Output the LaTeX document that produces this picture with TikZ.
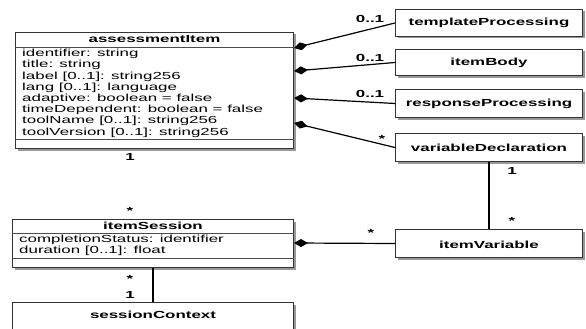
\documentclass[tikz,border=0pt]{standalone}
\usepackage{fontspec}
\setmainfont[FakeStretch=1.65]{Liberation Sans}
\usetikzlibrary{arrows.meta,shadows}

\begin{document}
\begin{tikzpicture}[x=1pt, y=-1pt,
  cls/.style={draw=black!80, line width=1pt, fill=white, anchor=north west, inner sep=0pt,
    general shadow={fill=black!40, shadow xshift=2pt, shadow yshift=-2pt}},
  rbox/.style={cls, minimum width=187pt, minimum height=28pt},
  sep/.style={draw=black!70, line width=0.8pt},
  ttl/.style={font=\fontsize{10.25}{11.2}\selectfont\bfseries, inner sep=0pt},
  attr/.style={font=\fontsize{10.25}{11.2}\selectfont, align=left, anchor=north west, inner sep=0pt},
  mult/.style={font=\fontsize{10.25}{11.2}\selectfont\bfseries, inner sep=0pt},
  comp/.style={line width=1.2pt, {Diamond[length=14pt,width=8pt]}-},
  assoc/.style={line width=1.2pt},
]
\clip (0,0) rectangle (586,329);

% assessmentItem
\node[cls, minimum width=278pt, minimum height=116pt] (ai) at (15,32) {};
\draw[sep] ([yshift=-15pt]ai.north west) -- ([yshift=-15pt]ai.north east);
\draw[sep] ([yshift=10pt]ai.south west) -- ([yshift=10pt]ai.south east);
\node[ttl] (ait) at ([yshift=-7.5pt]ai.north) {assessmentItem};
\node[attr] (aia) at ([xshift=7pt,yshift=-17pt]ai.north west) {identifier: string\\
title: string\\
label [0..1]: string256\\
lang [0..1]: language\\
adaptive: boolean = false\\
timeDependent: boolean = false\\
toolName [0..1]: string256\\
toolVersion [0..1]: string256};

% itemSession
\node[cls, minimum width=281pt, minimum height=48pt] (is) at (12,219) {};
\draw[sep] ([yshift=-14pt]is.north west) -- ([yshift=-14pt]is.north east);
\draw[sep] ([yshift=10pt]is.south west) -- ([yshift=10pt]is.south east);
\node[ttl] (ist) at ([yshift=-7pt]is.north) {itemSession};
\node[attr] (isa) at ([xshift=7pt,yshift=-16pt]is.north west) {completionStatus: identifier\\
duration [0..1]: float};

% sessionContext
\node[cls, minimum width=281pt, minimum height=45pt] (sc) at (12,302) {};
\node[ttl] (sct) at ([yshift=-13pt]sc.north) {sessionContext};

% right column
\node[rbox, minimum height=27pt] (tp) at (395,9) {};
\node[ttl] at (tp.center) {templateProcessing};
\node[rbox, minimum height=26pt] (ib) at (395,49) {};
\node[ttl] at (ib.center) {itemBody};
\node[rbox] (rp) at (395,89) {};
\node[ttl] at (rp.center) {responseProcessing};
\node[rbox] (vd) at (395,133) {};
\node[ttl] at (vd.center) {variableDeclaration};
\node[rbox] (iv) at (395,229) {};
\node[ttl] at ([yshift=-1pt]iv.center) {itemVariable};

% connectors
\draw[comp] ([yshift=-16pt]ai.north east) -- (tp.west);
\draw[comp] ([yshift=-39pt]ai.north east) -- (ib.west);
\draw[comp] ([yshift=-66pt]ai.north east) -- (rp.west);
\draw[comp] ([yshift=-91pt]ai.north east) -- (vd.west);
\draw[comp] ([yshift=-24pt]is.north east) -- (iv.west);
\draw[assoc] (vd.south) -- (iv.north);
\draw[assoc] (is.south) -- (sc.north);

% multiplicities
\node[mult] (m1) at (370,19) {0..1};
\node[mult] (m2) at (370,58) {0..1};
\node[mult] (m3) at (370,94) {0..1};
\node[mult] (m4) at (382,139) {*};
\node[mult] (m5) at (371,233) {*};
\node[mult] (m6) at (512,171) {1};
\node[mult] (m7) at (512,221) {*};
\node[mult] (m8) at (130,157) {1};
\node[mult] (m9) at (130,211) {*};
\node[mult] (m10) at (130,279) {*};
\node[mult] (m11) at (130,295) {1};
\end{tikzpicture}
\end{document}
